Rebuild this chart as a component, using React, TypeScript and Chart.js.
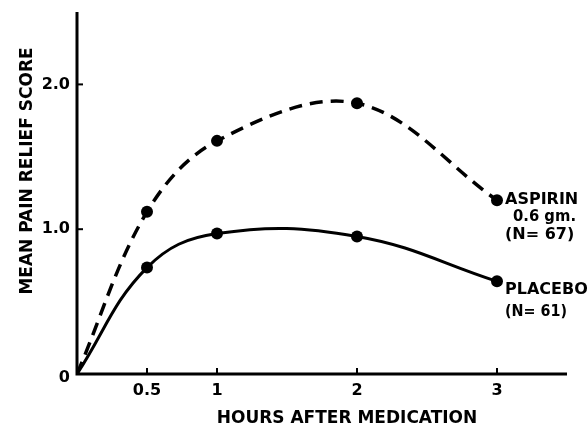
import React, { useEffect, useRef } from "react";
import { Chart, registerables } from "chart.js";

Chart.register(...registerables);

const hours = [0, 0.5, 1, 2, 3];
const aspirin = [0, 1.12, 1.61, 1.87, 1.2];
const placebo = [0, 0.735, 0.97, 0.95, 0.64];
const xTicks = [0.5, 1, 2, 3];
const xTickLabels = ["0.5", "1", "2", "3"];
const yTicks = [0, 1, 2];
const yTickLabels = ["0", "1.0", "2.0"];
const aspirinLabel = ["ASPIRIN", "0.6 gm.", "(N= 67)"];
const placeboLabel = ["PLACEBO", "(N= 61)"];
const xTitle = "HOURS AFTER MEDICATION";
const yTitle = "MEAN PAIN RELIEF SCORE";

const FONT = "'DejaVu Sans', 'Liberation Sans', sans-serif";

const drawPlugin = {
  id: "paperAxes",
  afterDatasetsDraw(chart: any) {
    const ctx = chart.ctx;
    const xs = chart.scales.x;
    const ys = chart.scales.y;
    const x0 = xs.getPixelForValue(0);
    const y0 = ys.getPixelForValue(0);
    const area = chart.chartArea;
    ctx.save();
    ctx.strokeStyle = "#000";
    ctx.fillStyle = "#000";
    ctx.lineWidth = 3;
    ctx.lineCap = "butt";
    // axes
    ctx.beginPath();
    ctx.moveTo(x0, area.top);
    ctx.lineTo(x0, y0);
    ctx.lineTo(area.right, y0);
    ctx.stroke();
    // ticks (inward)
    ctx.lineWidth = 2;
    xTicks.forEach((v) => {
      const px = xs.getPixelForValue(v);
      ctx.beginPath();
      ctx.moveTo(px, y0);
      ctx.lineTo(px, y0 - 6);
      ctx.stroke();
    });
    yTicks.forEach((v) => {
      if (v === 0) return;
      const py = ys.getPixelForValue(v);
      ctx.beginPath();
      ctx.moveTo(x0, py);
      ctx.lineTo(x0 + 6, py);
      ctx.stroke();
    });
    // tick labels
    ctx.font = `bold 16px ${FONT}`;
    ctx.textAlign = "center";
    ctx.textBaseline = "middle";
    xTicks.forEach((v, i) => {
      ctx.fillText(xTickLabels[i], xs.getPixelForValue(v), y0 + 17);
    });
    ctx.textAlign = "right";
    yTicks.forEach((v, i) => {
      const py = ys.getPixelForValue(v) + (v === 0 ? 4 : 0);
      ctx.fillText(yTickLabels[i], x0 - 7, py);
    });
    // axis titles
    ctx.font = `bold 17px ${FONT}`;
    ctx.textAlign = "center";
    ctx.fillText(xTitle, 347, 419, 264);
    ctx.save();
    ctx.translate(28, 171);
    ctx.rotate(-Math.PI / 2);
    ctx.fillText(yTitle, 0, 0, 264);
    ctx.restore();
    // series labels
    ctx.font = `bold 16px ${FONT}`;
    ctx.textAlign = "left";
    const lastIdx = hours.length - 1;
    const ax = xs.getPixelForValue(hours[lastIdx]);
    const ay = ys.getPixelForValue(aspirin[lastIdx]);
    ctx.fillText(aspirinLabel[0], ax + 8, ay, 74);
    ctx.fillText(aspirinLabel[1], ax + 16, ay + 17, 63);
    ctx.fillText(aspirinLabel[2], ax + 8, ay + 35, 73);
    const py = ys.getPixelForValue(placebo[lastIdx]);
    ctx.fillText(placeboLabel[0], ax + 8, py + 9, 83);
    ctx.fillText(placeboLabel[1], ax + 8, py + 31, 62);
    ctx.restore();
  },
};

export default function App() {
  const ref = useRef<HTMLCanvasElement | null>(null);
  useEffect(() => {
    if (!ref.current) return;
    const radii = hours.map((h) => (h === 0 ? 0 : 6));
    const chart = new Chart(ref.current, {
      type: "line",
      data: {
        datasets: [
          {
            label: "Aspirin 0.6 gm.",
            data: hours.map((h, i) => ({ x: h, y: aspirin[i] })),
            borderColor: "#000",
            backgroundColor: "#000",
            borderWidth: 3.5,
            borderDash: [13, 8],
            tension: 0.35,
            pointRadius: radii,
            pointBorderWidth: 0,
            fill: false,
          },
          {
            label: "Placebo",
            data: hours.map((h, i) => ({ x: h, y: placebo[i] })),
            borderColor: "#000",
            backgroundColor: "#000",
            borderWidth: 3,
            tension: 0.4,
            pointRadius: radii,
            pointBorderWidth: 0,
            fill: false,
          },
        ],
      },
      options: {
        responsive: false,
        animation: false,
        layout: { padding: { left: 77, top: 12, right: 21, bottom: 59 } },
        plugins: {
          legend: { display: false },
          tooltip: { enabled: false },
        },
        scales: {
          x: { type: "linear", min: 0, max: 3.5, display: false },
          y: { type: "linear", min: 0, max: 2.5, display: false },
        },
      },
      plugins: [drawPlugin],
    });
    return () => chart.destroy();
  }, []);
  return (
    <div style={{ position: "fixed", left: 0, top: 0, width: 588, height: 433, background: "#fff" }}>
      <canvas ref={ref} width={588} height={433} />
    </div>
  );
}
